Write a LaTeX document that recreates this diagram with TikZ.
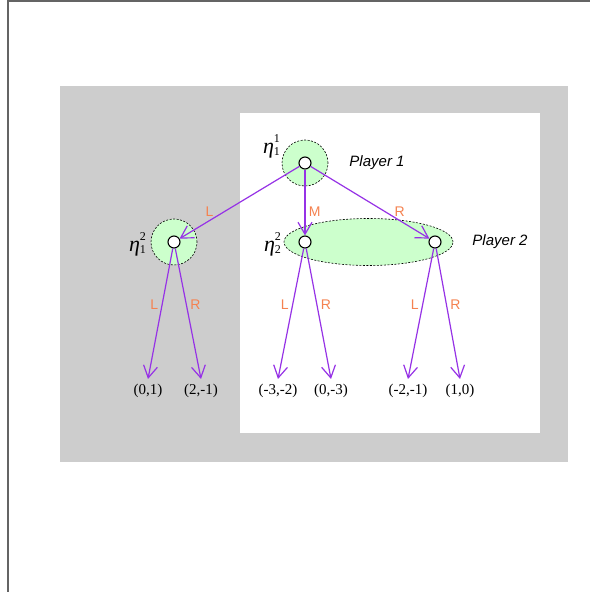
\documentclass[tikz,border=0pt]{standalone}
\usepackage{amsmath}
\usepackage{fontspec}
\setmainfont{Liberation Serif}
\setsansfont{Liberation Sans}
\usepackage{tikz}
\usetikzlibrary{positioning, arrows.meta, shapes.geometric}

\definecolor{movepurple}{RGB}{150,50,230}
\definecolor{actorange}{RGB}{245,130,80}
\definecolor{setgreen}{RGB}{204,255,204}
\definecolor{bggray}{RGB}{205,205,205}
\definecolor{framegray}{RGB}{100,100,100}

\newcommand{\etalab}[2]{{\itshape η}\rlap{\raisebox{11pt}{\fontsize{12}{13}\selectfont #2}}\raisebox{-2.5pt}{\fontsize{12}{13}\selectfont #1}}

\begin{document}
\begin{tikzpicture}[
    x=1pt, y=1pt,
    node distance=79pt,
    on grid,
    dec/.style={
        circle,
        draw,
        fill=white,
        line width=1.1pt,
        minimum size=12pt,
        inner sep=0pt
    },
    info/.style={
        circle,
        draw,
        fill=setgreen,
        dash pattern=on 2pt off 1.5pt,
        line width=0.6pt,
        minimum size=46pt
    },
    infoset/.style={
        ellipse,
        draw,
        fill=setgreen,
        dash pattern=on 2pt off 1.5pt,
        line width=0.6pt,
        minimum width=169pt,
        minimum height=47pt
    },
    move/.style={draw=movepurple, line width=1.2pt, -{Straight Barb[length=12pt, width=14pt]}},
    act/.style={text=actorange, font=\sffamily\fontsize{14}{16}\selectfont},
    payoff/.style={font=\fontsize{15}{18}\selectfont, inner sep=5pt},
    player/.style={font=\sffamily\itshape\fontsize{15}{18}\selectfont},
    eta/.style={font=\fontsize{22}{24}\selectfont, inner sep=0pt}
]

\useasboundingbox (0,0) rectangle (590,592);
\draw[line width=1.5pt, framegray] (8,0) -- (8,591) -- (590,591);
\fill[bggray] (60,130) rectangle (568,506);
\fill[white] (240,159) rectangle (540,479);

\node[info] (s1) at (305,429) {};
\node[info] (s2) [below left=79pt and 131pt of s1] {};
\node[infoset] (s3) [below right=79pt and 63.5pt of s1] {};

\node[dec] (root) at (s1) {};
\node[dec] (l) at (s2) {};
\node[dec] (m) [below=of root] {};
\node[dec] (r) [below right=79pt and 130pt of root] {};

\node[eta] (e11) [above left=17pt and 33.5pt of root] {\etalab{1}{1}};
\node[eta] (e12) [below left=2pt and 36.5pt of l] {\etalab{1}{2}};
\node[eta] (e22) [below left=2pt and 32.5pt of m] {\etalab{2}{2}};
\node[player] (p1) [right=72pt of root] {Player 1};
\node[player] (p2) [right=65pt of r] {Player 2};

\node[payoff] (o1) [below left=149pt and 26pt of l] {(0,1)};
\node[payoff] (o2) [below right=149pt and 27pt of l] {(2,-1)};
\node[payoff] (o3) [below left=149pt and 27pt of m] {(-3,-2)};
\node[payoff] (o4) [below right=149pt and 26pt of m] {(0,-3)};
\node[payoff] (o5) [below left=149pt and 27pt of r] {(-2,-1)};
\node[payoff] (o6) [below right=149pt and 25pt of r] {(1,0)};

\draw[move] (root) -- node[act, pos=0.75, above] (a1) {L} (l);
\draw[move] (root) -- node[act, pos=0.64, right] (a2) {M} (m);
\draw[move] (root) -- node[act, pos=0.75, above] (a3) {R} (r);

\draw[move] (l) -- node[act, pos=0.43, left] (b1) {L} (o1.north);
\draw[move] (l) -- node[act, pos=0.43, right] (b2) {R} (o2.north);
\draw[move] (m) -- node[act, pos=0.43, left] (b3) {L} (o3.north);
\draw[move] (m) -- node[act, pos=0.43, right] (b4) {R} (o4.north);
\draw[move] (r) -- node[act, pos=0.43, left] (b5) {L} (o5.north);
\draw[move] (r) -- node[act, pos=0.43, right] (b6) {R} (o6.north);

\end{tikzpicture}
\end{document}
